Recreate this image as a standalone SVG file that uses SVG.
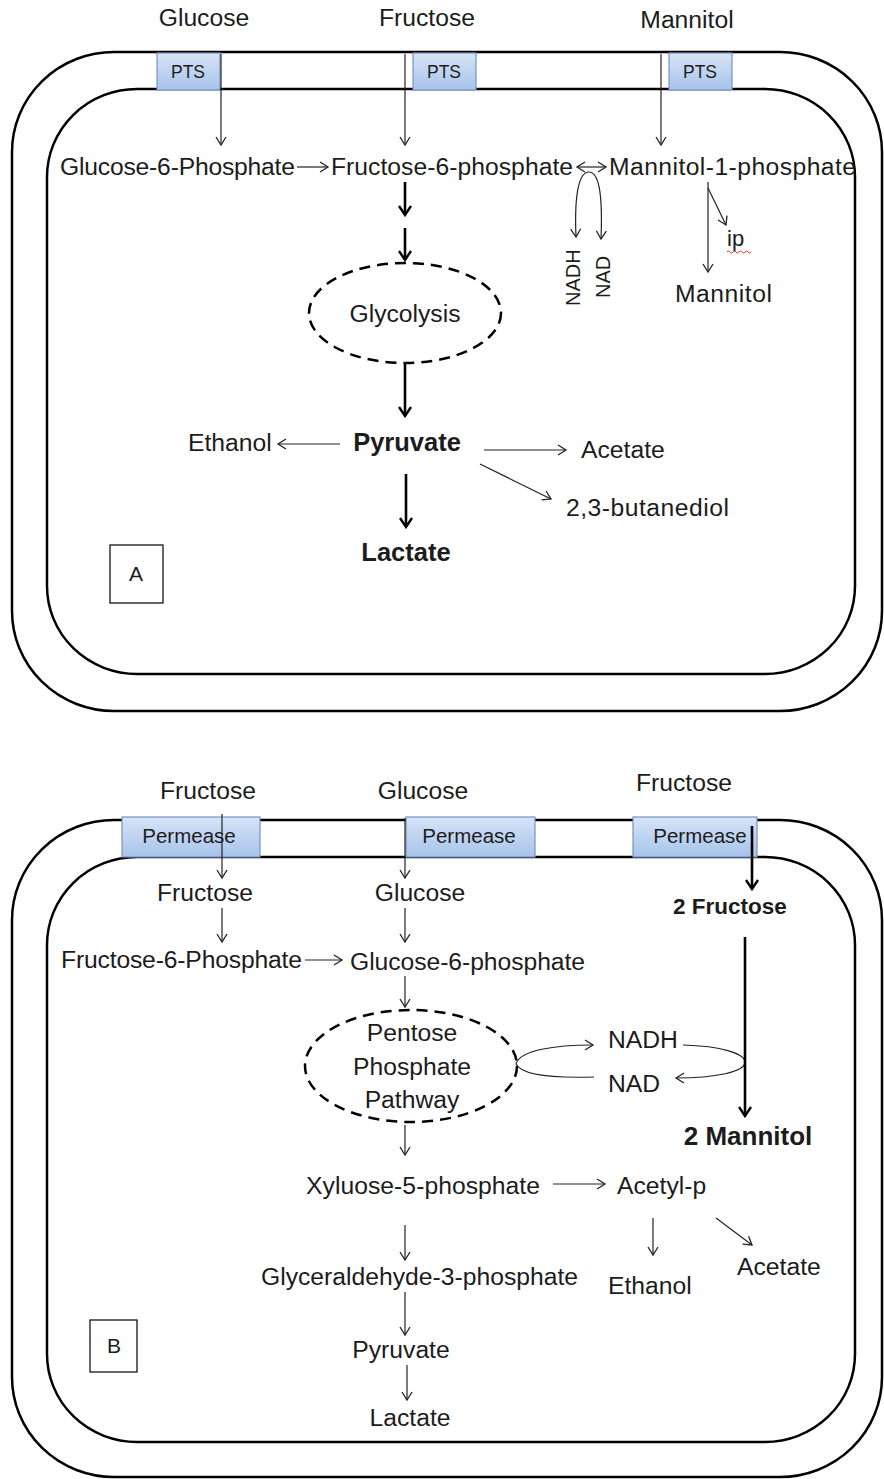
<svg xmlns="http://www.w3.org/2000/svg" width="884" height="1479" viewBox="0 0 884 1479">
<style>
text{font-family:"Liberation Sans",Arial,sans-serif;fill:#1c1c1c;font-size:24.7px}
.b{font-weight:bold}
.c{text-anchor:middle}
.mem{fill:none;stroke:#000;stroke-width:2.5}
.box{fill:url(#g);stroke:#7593c4;stroke-width:1.2}
.t{fill:none;stroke:#222;stroke-width:1.2;marker-end:url(#ah)}
.k{fill:none;stroke:#000;stroke-width:2.6;marker-end:url(#ahb)}
.ell{fill:none;stroke:#000;stroke-width:2.5;stroke-dasharray:11 7}
.lbl{fill:#fff;stroke:#000;stroke-width:1.2}
</style>
<defs>
<linearGradient id="g" x1="0" y1="0" x2="0" y2="1">
<stop offset="0" stop-color="#d6e4f7"/>
<stop offset="1" stop-color="#a7c3ea"/>
</linearGradient>
<marker id="ah" markerUnits="userSpaceOnUse" viewBox="-10 -7 12 14" refX="0" refY="0" markerWidth="12" markerHeight="14" orient="auto-start-reverse">
<path d="M-8,-5 L0,0 L-8,5" fill="none" stroke="#222" stroke-width="1.3"/>
</marker>
<marker id="ahb" markerUnits="userSpaceOnUse" viewBox="-12 -8 14 16" refX="0" refY="0" markerWidth="14" markerHeight="16" orient="auto">
<path d="M-9,-6 L0,0 L-9,6" fill="none" stroke="#000" stroke-width="2.4"/>
</marker>
</defs>

<!-- Panel A -->
<g id="cellA">
<rect class="mem" x="12" y="52" width="870" height="659" rx="102" ry="100"/>
<rect class="mem" x="47" y="89" width="808" height="585" rx="90" ry="88"/>
</g>
<g id="ptsA1"><rect class="box" x="157" y="53" width="63" height="37"/><text class="c" x="188" y="78" style="font-size:17.5px">PTS</text></g>
<g id="ptsA2"><rect class="box" x="413" y="53" width="63" height="37"/><text class="c" x="444" y="78" style="font-size:17.5px">PTS</text></g>
<g id="ptsA3"><rect class="box" x="669" y="53" width="63" height="37"/><text class="c" x="700" y="78" style="font-size:17.5px">PTS</text></g>
<g id="glucoseA"><text class="c" x="204" y="26">Glucose</text></g>
<g id="fructoseA"><text class="c" x="427" y="26">Fructose</text></g>
<g id="mannitolA"><text class="c" x="687" y="28">Mannitol</text></g>
<g id="g6pA"><text x="60" y="175" textLength="235">Glucose-6-Phosphate</text></g>
<g id="f6pA"><text x="331" y="175" textLength="242">Fructose-6-phosphate</text></g>
<g id="m1pA"><text x="609" y="175" textLength="247">Mannitol-1-phosphate</text></g>
<g id="nadhA"><text transform="translate(580,306) rotate(-90)" style="font-size:20px">NADH</text></g>
<g id="nadA"><text transform="translate(610,298) rotate(-90)" style="font-size:20px">NAD</text></g>
<g id="ipA"><text x="727" y="246" style="font-size:22px">ip</text>
<path d="M727,252 q1.5,-2 3,0 t3,0 t3,0 t3,0 t3,0 t3,0 t3,0 t3,0" fill="none" stroke="#e02020" stroke-width="0.9"/></g>
<g id="mannitolA2"><text x="675" y="302" textLength="97">Mannitol</text></g>
<g id="glycolysis"><ellipse class="ell" cx="405" cy="313" rx="96" ry="50"/><text class="c" x="405" y="322">Glycolysis</text></g>
<g id="pyruvateA"><text class="c b" x="407" y="451" style="font-size:25.5px">Pyruvate</text></g>
<g id="ethanolA"><text x="188" y="451">Ethanol</text></g>
<g id="acetateA"><text x="581" y="458">Acetate</text></g>
<g id="butanediol"><text x="566" y="516" textLength="163">2,3-butanediol</text></g>
<g id="lactateA"><text class="c b" x="406" y="561" style="font-size:25.5px">Lactate</text></g>
<g id="labelA"><rect class="lbl" x="110" y="545" width="53" height="58"/><text class="c" x="136" y="581" style="font-size:21px">A</text></g>

<!-- Panel B -->
<g id="cellB">
<rect class="mem" x="12" y="820" width="870" height="657" rx="102" ry="100"/>
<rect class="mem" x="47" y="857" width="808" height="585" rx="90" ry="88"/>
</g>
<g id="permB1"><rect class="box" x="122" y="817" width="138" height="40"/><text class="c" x="189" y="843" style="font-size:20.5px">Permease</text></g>
<g id="permB2"><rect class="box" x="406" y="817" width="129" height="40"/><text class="c" x="469" y="843" style="font-size:20.5px">Permease</text></g>
<g id="permB3"><rect class="box" x="633" y="817" width="124" height="40"/><text class="c" x="700" y="843" style="font-size:20.5px">Permease</text></g>
<g id="fructoseB1"><text class="c" x="208" y="799">Fructose</text></g>
<g id="glucoseB1"><text class="c" x="423" y="799">Glucose</text></g>
<g id="fructoseB3"><text class="c" x="684" y="791">Fructose</text></g>
<g id="fructoseB2"><text class="c" x="205" y="901">Fructose</text></g>
<g id="glucoseB2"><text class="c" x="420" y="901">Glucose</text></g>
<g id="twoFructose"><text class="c b" x="730" y="914" style="font-size:22.5px">2 Fructose</text></g>
<g id="f6pB"><text x="61" y="968" textLength="241">Fructose-6-Phosphate</text></g>
<g id="g6pB"><text x="350" y="970" textLength="235">Glucose-6-phosphate</text></g>
<g id="ppp"><ellipse class="ell" cx="411" cy="1066" rx="106" ry="56"/>
<text class="c" x="412" y="1041">Pentose</text><text class="c" x="412" y="1075">Phosphate</text><text class="c" x="412" y="1108">Pathway</text></g>
<g id="nadhB"><text x="608" y="1048">NADH</text></g>
<g id="nadB"><text x="608" y="1092">NAD</text></g>
<g id="twoMannitol"><text class="c b" x="748" y="1145" style="font-size:26px">2 Mannitol</text></g>
<g id="x5p"><text x="306" y="1194" textLength="234">Xyluose-5-phosphate</text></g>
<g id="acetylp"><text x="617" y="1194">Acetyl-p</text></g>
<g id="g3p"><text x="261" y="1285" textLength="317">Glyceraldehyde-3-phosphate</text></g>
<g id="ethanolB"><text x="608" y="1294">Ethanol</text></g>
<g id="acetateB"><text x="737" y="1275">Acetate</text></g>
<g id="pyruvateB"><text class="c" x="401" y="1358">Pyruvate</text></g>
<g id="lactateB"><text class="c" x="410" y="1426">Lactate</text></g>
<g id="labelB"><rect class="lbl" x="90" y="1320" width="47" height="52"/><text class="c" x="114" y="1353" style="font-size:21px">B</text></g>

<g id="connectors">
<!-- A -->
<path class="t" d="M221,54 V145"/>
<path class="t" d="M405,54 V145"/>
<path class="t" d="M661,54 V145"/>
<path class="t" d="M297,167 H328"/>
<path class="t" d="M577,167 H606" style="marker-start:url(#ah)"/>
<path class="t" d="M576,237 C574,190 580,172 589,172 C598,172 603,190 601,239" style="marker-start:url(#ah)"/>
<path class="t" d="M708,182 V272"/>
<path class="t" d="M708,188 L726,225"/>
<path class="k" d="M405,182 V215"/>
<path class="k" d="M405,228 V260"/>
<path class="k" d="M405,364 V416"/>
<path class="t" d="M340,444 H278"/>
<path class="t" d="M484,450 H566"/>
<path class="t" d="M480,464 L551,499"/>
<path class="k" d="M406,474 V527"/>
<!-- B -->
<path class="t" d="M222,814 V878"/>
<path class="t" d="M405,818 V878"/>
<path class="k" d="M752,826 V889"/>
<path class="t" d="M222,908 V942"/>
<path class="t" d="M405,908 V942"/>
<path class="t" d="M305,960 H342"/>
<path class="t" d="M405,976 V1007"/>
<path class="t" d="M516,1064 C520,1050 555,1045 593,1045"/>
<path d="M516,1064 C522,1076 560,1078 594,1077" fill="none" stroke="#222" stroke-width="1.2"/>
<path class="t" d="M683,1045 C722,1046 745,1054 745,1062 C745,1072 715,1078 676,1078"/>
<path class="k" d="M745,937 V1116"/>
<path class="t" d="M405,1125 V1155"/>
<path class="t" d="M553,1184 H605"/>
<path class="t" d="M405,1225 V1260"/>
<path class="t" d="M653,1218 V1255"/>
<path class="t" d="M716,1218 L752,1245"/>
<path class="t" d="M405,1292 V1335"/>
<path class="t" d="M407,1365 V1400"/>
</g>
</svg>
